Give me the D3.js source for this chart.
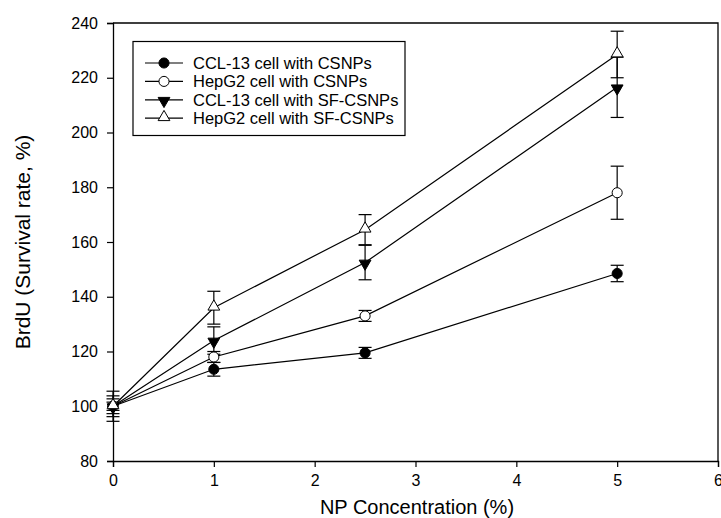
<!DOCTYPE html>
<html>
<head>
<meta charset="utf-8">
<script src="https://cdn.jsdelivr.net/npm/d3@7"></script>
<style>
  body { margin: 0; background: #fff; }
  text { font-family: "Liberation Sans", Arial, sans-serif; fill: #000; }
</style>
</head>
<body>
<script>
(function() {
    var w = 721,
        h = 518;
    var margin = {left: 113, right: 3, top: 23, bottom: 57};

    // data
    var concentrations = [0, 1, 2.5, 5];
    var seriesNames = ['CCL-13 cell with CSNPs', 'HepG2 cell with CSNPs',
                       'CCL-13 cell with SF-CSNPs', 'HepG2 cell with SF-CSNPs'];
    var ccl13Csnps = [100, 113.5, 119.5, 148.5];
    var ccl13CsnpsErr = [1.5, 2.5, 2, 3];
    var hepg2Csnps = [100, 118, 133, 178];
    var hepg2CsnpsErr = [2.7, 2, 2, 9.7];
    var ccl13Sf = [100, 124, 152.5, 216.5];
    var ccl13SfErr = [3.8, 5, 6.3, 11];
    var hepg2Sf = [100, 136, 164.5, 228.5];
    var hepg2SfErr = [5.5, 6, 5.5, 8.5];
    var xTicks = [0, 1, 2, 3, 4, 5, 6];
    var yTicks = [80, 100, 120, 140, 160, 180, 200, 220, 240];

    var series = [
        {name: seriesNames[0], values: ccl13Csnps, err: ccl13CsnpsErr, shape: 'circle', fill: '#000'},
        {name: seriesNames[1], values: hepg2Csnps, err: hepg2CsnpsErr, shape: 'circle', fill: '#fff'},
        {name: seriesNames[2], values: ccl13Sf, err: ccl13SfErr, shape: 'down', fill: '#000'},
        {name: seriesNames[3], values: hepg2Sf, err: hepg2SfErr, shape: 'up', fill: '#fff'}
    ];

    var svg = d3.select('body').append('svg')
        .attr('width', w)
        .attr('height', h);

    var xScale = d3.scaleLinear().domain([0, 6]).range([margin.left, w - margin.right]);
    var yScale = d3.scaleLinear().domain([80, 240]).range([h - margin.bottom, margin.top]);

    // markers
    var symbolFor = function(shape) {
        if (shape === 'circle') return d3.symbol().type(d3.symbolCircle).size(80)();
        return d3.symbol().type(d3.symbolTriangle).size(60)();
    };
    var drawMarker = function(g, s, x, y) {
        g.append('path')
            .attr('d', symbolFor(s.shape))
            .attr('transform', 'translate(' + x + ',' + (s.shape === 'down' ? y + 1 : s.shape === 'up' ? y - 1 : y) + ')' +
                  (s.shape === 'down' ? ' rotate(180)' : ''))
            .attr('fill', s.fill)
            .attr('stroke', '#000')
            .attr('stroke-width', 1);
    };

    // axes
    svg.append('g')
        .attr('transform', 'translate(0,' + (h - margin.bottom) + ')')
        .call(d3.axisBottom(xScale).tickValues(xTicks).tickSize(6).tickPadding(8).tickFormat(d3.format('d')))
        .call(function(g) {
            g.select('.domain').attr('stroke-width', 1.3);
            g.selectAll('.tick line').attr('stroke-width', 1.2);
            g.selectAll('text').attr('font-size', 16);
        });
    svg.append('g')
        .attr('transform', 'translate(' + margin.left + ',0)')
        .call(d3.axisLeft(yScale).tickValues(yTicks).tickSize(6).tickPadding(9))
        .call(function(g) {
            g.select('.domain').attr('stroke-width', 1.3);
            g.selectAll('.tick line').attr('stroke-width', 1.2);
            g.selectAll('text').attr('font-size', 16);
        });
    // top and right frame
    svg.append('path')
        .attr('d', 'M' + margin.left + ',' + yScale(240) + 'H' + xScale(6) + 'V' + yScale(80))
        .attr('fill', 'none')
        .attr('stroke', '#000')
        .attr('stroke-width', 1.3);

    // axis titles
    svg.append('text')
        .attr('x', 417)
        .attr('y', 514)
        .attr('text-anchor', 'middle')
        .attr('font-size', 20)
        .text('NP Concentration (%)');
    svg.append('text')
        .attr('transform', 'translate(30,' + ((yScale(80) + yScale(240)) / 2) + ') rotate(-90)')
        .attr('text-anchor', 'middle')
        .attr('font-size', 21)
        .text('BrdU (Survival rate, %)');

    var line = d3.line()
        .x(function(d) { return xScale(d[0]); })
        .y(function(d) { return yScale(d[1]); });

    var plot = svg.append('g');
    // lines
    series.forEach(function(s) {
        plot.append('path')
            .datum(concentrations.map(function(c, i) { return [c, s.values[i]]; }))
            .attr('d', line)
            .attr('fill', 'none')
            .attr('stroke', '#000')
            .attr('stroke-width', 1.2);
    });
    // error bars
    series.forEach(function(s) {
        concentrations.forEach(function(c, i) {
            var x = xScale(c),
                y1 = yScale(s.values[i] - s.err[i]),
                y2 = yScale(s.values[i] + s.err[i]);
            plot.append('line').attr('x1', x).attr('x2', x).attr('y1', y1).attr('y2', y2)
                .attr('stroke', '#000').attr('stroke-width', 1.2);
            [y1, y2].forEach(function(yy) {
                plot.append('line').attr('x1', x - 6.5).attr('x2', x + 6.5).attr('y1', yy).attr('y2', yy)
                    .attr('stroke', '#000').attr('stroke-width', 1.2);
            });
        });
    });
    // markers
    series.forEach(function(s) {
        concentrations.forEach(function(c, i) {
            drawMarker(plot, s, xScale(c), yScale(s.values[i]));
        });
    });

    // legend
    var legend = svg.append('g').attr('transform', 'translate(133,41.5)');
    legend.append('rect')
        .attr('width', 272)
        .attr('height', 94)
        .attr('fill', '#fff')
        .attr('stroke', '#000')
        .attr('stroke-width', 1.2);
    series.forEach(function(s, i) {
        var yy = 21.5 + i * 18.4;
        legend.append('line').attr('x1', 12).attr('x2', 50).attr('y1', yy).attr('y2', yy)
            .attr('stroke', '#000').attr('stroke-width', 1.2);
        drawMarker(legend, s, 31, yy);
        legend.append('text')
            .attr('x', 60)
            .attr('y', yy + 6)
            .attr('font-size', 16.5)
            .text(s.name);
    });
})();
</script>
</body>
</html>
